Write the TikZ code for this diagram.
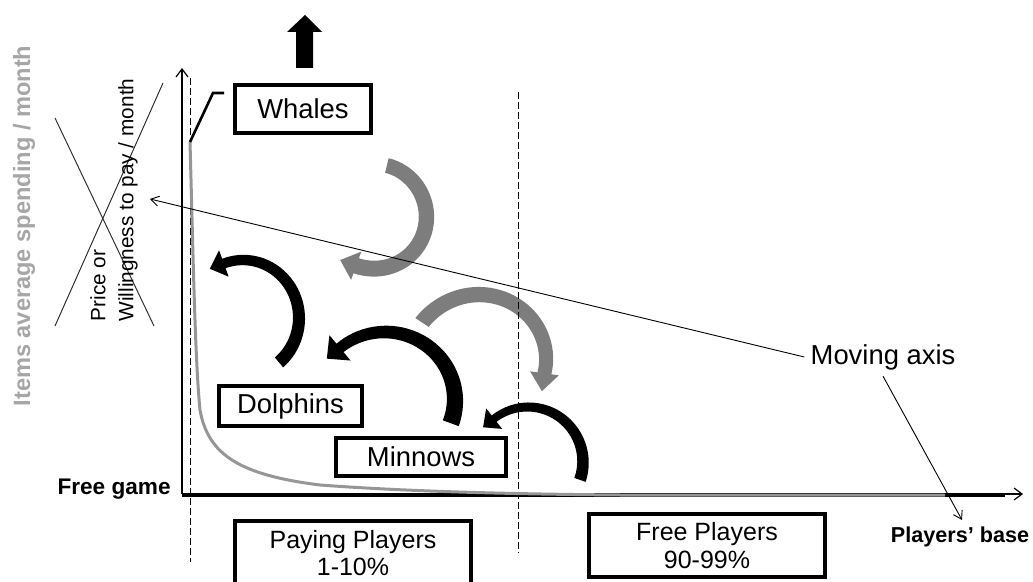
\documentclass[tikz,border=0pt]{standalone}
\usepackage{fontspec}
\setmainfont{Liberation Sans}
\usetikzlibrary{arrows.meta}
\definecolor{labgray}{RGB}{166,166,166}
\definecolor{curvegray}{RGB}{150,150,150}
\definecolor{arrgray}{RGB}{125,125,125}

\pgfkeys{/carr/.cd,
 cx/.store in=\cCx, cy/.store in=\cCy,
 rxa/.store in=\cRxa, rya/.store in=\cRya, rxb/.store in=\cRxb, ryb/.store in=\cRyb,
 aa/.store in=\cAa, ab/.store in=\cAb, wa/.store in=\cWa, wb/.store in=\cWb,
 hw/.store in=\cHw, hl/.store in=\cHl, col/.store in=\cCol}

\newcommand\curvarrow[1]{%
 \pgfkeys{/carr/.cd,#1}%
 \pgfmathsetmacro\cSg{((\cAb)>(\cAa))?1:-1}%
 \pgfmathsetmacro\cTx{-1*(\cSg)*(\cRxb)*sin(\cAb)}%
 \pgfmathsetmacro\cTy{(\cSg)*(\cRyb)*cos(\cAb)}%
 \pgfmathsetmacro\cTn{sqrt((\cTx)*(\cTx)+(\cTy)*(\cTy))}%
 \pgfmathsetmacro\cBx{(\cCx)+(\cRxb)*cos(\cAb)}%
 \pgfmathsetmacro\cBy{(\cCy)+(\cRyb)*sin(\cAb)}%
 \fill[\cCol] plot[domain=0:1,samples=40,variable=\pp]
  ({(\cCx)+((\cRxa)+((\cRxb)-(\cRxa))*\pp+((\cWa)+((\cWb)-(\cWa))*\pp)/2)*cos((\cAa)+((\cAb)-(\cAa))*\pp)},
   {(\cCy)+((\cRya)+((\cRyb)-(\cRya))*\pp+((\cWa)+((\cWb)-(\cWa))*\pp)/2)*sin((\cAa)+((\cAb)-(\cAa))*\pp)})
  -- ({(\cCx)+((\cRxb)+(\cHw)/2)*cos(\cAb)},{(\cCy)+((\cRyb)+(\cHw)/2)*sin(\cAb)})
  -- ({(\cBx)+(\cHl)*(\cTx)/(\cTn)},{(\cBy)+(\cHl)*(\cTy)/(\cTn)})
  -- ({(\cCx)+((\cRxb)-(\cHw)/2)*cos(\cAb)},{(\cCy)+((\cRyb)-(\cHw)/2)*sin(\cAb)})
  -- plot[domain=0:1,samples=40,variable=\pp]
  ({(\cCx)+((\cRxb)+((\cRxa)-(\cRxb))*\pp-((\cWb)+((\cWa)-(\cWb))*\pp)/2)*cos((\cAb)+((\cAa)-(\cAb))*\pp)},
   {(\cCy)+((\cRyb)+((\cRya)-(\cRyb))*\pp-((\cWb)+((\cWa)-(\cWb))*\pp)/2)*sin((\cAb)+((\cAa)-(\cAb))*\pp)})
  -- cycle;}

\begin{document}
\begin{tikzpicture}[x=0.5pt,y=-0.5pt,
  box/.style={draw,line width=2pt,inner sep=0pt,align=center},
  big/.style={font=\fontsize{13.7}{16}\selectfont},
  mid/.style={font=\fontsize{12.5}{14}\selectfont},
  bold/.style={font=\bfseries\fontsize{10.8}{13}\selectfont,inner sep=0pt},
  axisline/.style={line width=0.6pt},
  barb/.style={-{Straight Barb[length=4pt,width=6pt]}},
  thinbarb/.style={line width=0.45pt,-{Straight Barb[length=4pt,width=5pt]}},
  dashline/.style={line width=0.5pt,dash pattern=on 3.5pt off 1.5pt},
  crossline/.style={line width=0.5pt,black!80}]
\useasboundingbox (0,0) rectangle (1033,582);

% curved arrows
\curvarrow{cx=375,cy=215,rxa=49,rya=51,rxb=55,ryb=54,aa=-76,ab=110,wa=15,wb=16,hw=30,hl=17,col=arrgray}
\curvarrow{cx=485,cy=365,rxa=76,rya=76,rxb=60,ryb=60,aa=-146,ab=8,wa=16,wb=14,hw=29,hl=18,col=arrgray}
\curvarrow{cx=243,cy=318,rxa=56,rya=58,rxb=56,ryb=58,aa=50,ab=-110,wa=13,wb=10,hw=28,hl=15,col=black}
\curvarrow{cx=385,cy=400,rxa=70,rya=68,rxb=70,ryb=68,aa=20,ab=-130,wa=17,wb=11,hw=33,hl=17,col=black}
\curvarrow{cx=528,cy=462,rxa=55,rya=55,rxb=55,ryb=55,aa=19,ab=-128,wa=12,wb=8,hw=26,hl=14,col=black}

% axes
\coordinate (O) at (182,494);
\coordinate (Ytop) at (182,68);
\coordinate (Xend) at (1023,494);
\coordinate (Xs) at (182,495);
\coordinate (Xthick) at (1005,495);
\draw[axisline,barb] (O) -- (Ytop);
\draw[axisline,barb] (O) -- (Xend);
\draw[line width=2pt] (Xs) -- (Xthick);

% dashed separators
\coordinate (d1a) at (190,78);  \coordinate (d1b) at (190,562);
\coordinate (d2a) at (518,92);  \coordinate (d2b) at (518,553);
\draw[dashline] (d1a) -- (d1b);
\draw[dashline] (d2a) -- (d2b);

% demand curve
\coordinate (cstart) at (190,142);
\coordinate (cend) at (945,495);
\draw[curvegray,line width=1.5pt] (cstart) .. controls (193,250) and (195,360) .. (200,410)
  .. controls (208,455) and (240,475) .. (320,485)
  .. controls (400,491) and (500,494) .. (620,495) -- (cend);

% whales leader
\coordinate (wk) at (213,93);
\coordinate (wl) at (224,93);
\draw[line width=1.3pt] (cstart) -- (wk) -- (wl);

% up block arrow
\fill (296,68) -- (313,68) -- (313,32) -- (322,32) -- (305,15) -- (287,32) -- (296,32) -- cycle;

% cross lines
\draw[crossline] (55,118) -- (154,326);
\draw[crossline] (163,83) -- (55,326);

% boxes
\node[box,big,minimum width=68pt,minimum height=24pt] (whales) at (303,109) {Whales};
\node[box,big,minimum width=71.5pt,minimum height=20pt] (dolphins) at (290.5,406) {Dolphins};
\node[box,big,minimum width=85pt,minimum height=19pt] (minnows) at (421,457) {Minnows};
\node[box,font=\fontsize{12.5}{13.5}\selectfont,minimum width=118pt,minimum height=32.5pt] (paying) at (353,553.5) {Paying Players\\1-10\%};
\node[box,mid,minimum width=118pt,minimum height=31.5pt] (free) at (707,545.5) {Free Players\\90-99\%};

% labels
\node[rotate=90,font=\bfseries\fontsize{11.8}{14}\selectfont,text=labgray,inner sep=0pt] (ylab) at (24,226) {Items average spending / month};
\node[rotate=90,align=left,font=\fontsize{10.4}{14}\selectfont,inner sep=0pt] (pw) at (114,200) {Price or\\Willingness to pay / month};
\node[bold,font=\bfseries\fontsize{11.3}{13}\selectfont,anchor=east] (fg) at (171,489) {Free game};
\node[bold] (pb) at (960,537) {Players’ base};
\node[big,inner sep=3pt] (mv) at (883,357) {Moving axis};

% moving axis pointers
\coordinate (yarr) at (150,199);
\coordinate (xarr) at (962,520);
\draw[thinbarb] (mv.west) -- (yarr);
\draw[thinbarb] (mv.south) -- (xarr);
\end{tikzpicture}
\end{document}
